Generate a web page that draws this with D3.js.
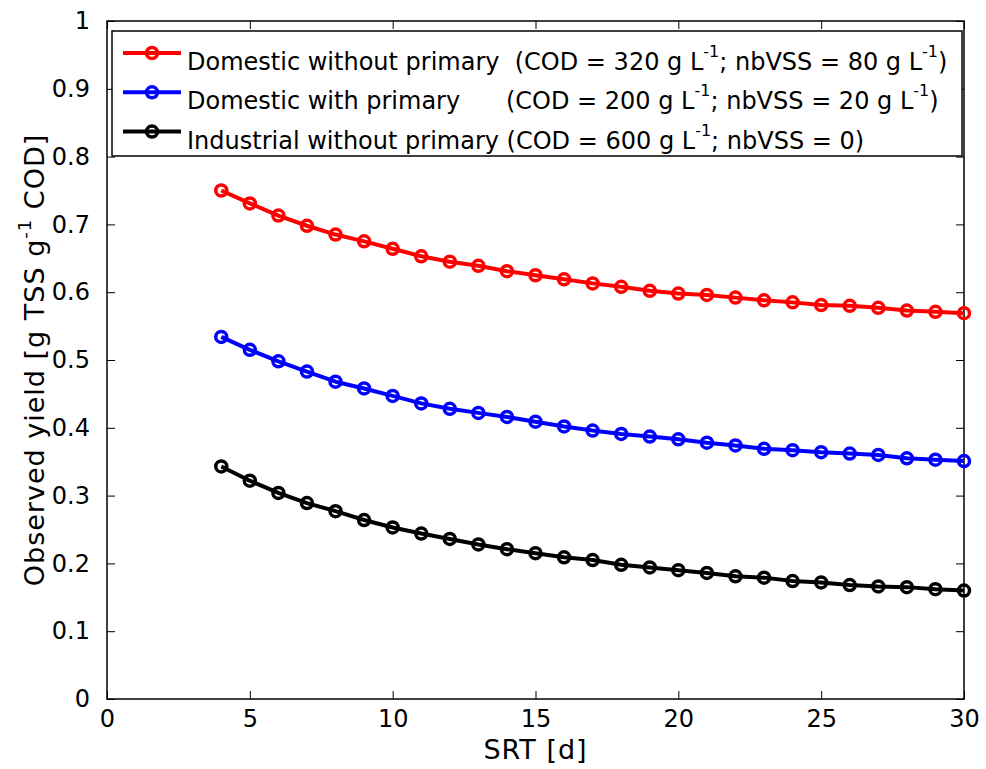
<!DOCTYPE html>
<html>
<head>
<meta charset="utf-8">
<script src="https://cdn.jsdelivr.net/npm/d3@7"></script>
<style>
    body { margin: 0; background: #fff; }
    svg text { font-family: "DejaVu Sans", sans-serif; fill: #000; }
</style>
</head>
<body>
<svg id="chart" width="986" height="769"></svg>
<script>
// SRT values [d]
const srt = [4, 5, 6, 7, 8, 9, 10, 11, 12, 13, 14, 15, 16, 17, 18, 19, 20,
             21, 22, 23, 24, 25, 26, 27, 28, 29, 30];

// observed yield [g TSS / g COD]
const domesticNoPrimary = [0.750, 0.731, 0.713, 0.698, 0.685, 0.675, 0.664, 0.653, 0.645,
                           0.639, 0.631, 0.625, 0.619, 0.613, 0.608, 0.602, 0.598, 0.596,
                           0.592, 0.588, 0.585, 0.581, 0.580, 0.577, 0.573, 0.571, 0.569];
const domesticPrimary   = [0.534, 0.515, 0.498, 0.483, 0.468, 0.458, 0.447, 0.436, 0.428,
                           0.422, 0.416, 0.409, 0.402, 0.396, 0.391, 0.387, 0.383, 0.378,
                           0.374, 0.369, 0.367, 0.364, 0.362, 0.360, 0.355, 0.353, 0.351];
const industrial        = [0.343, 0.322, 0.304, 0.289, 0.277, 0.264, 0.253, 0.244, 0.236,
                           0.228, 0.221, 0.215, 0.209, 0.205, 0.198, 0.194, 0.190, 0.186,
                           0.181, 0.179, 0.174, 0.172, 0.168, 0.166, 0.165, 0.162, 0.160];

const xTicks = [0, 5, 10, 15, 20, 25, 30];
const yTicks = [0, 0.1, 0.2, 0.3, 0.4, 0.5, 0.6, 0.7, 0.8, 0.9, 1];

// legend text pieces: [main, sup, middle, sup, end]
const legendNames = [
    ["Domestic without primary  (COD = 320 g L", "-1", "; nbVSS = 80 g L", "-1", ")"],
    ["Domestic with primary      (COD = 200 g L", "-1", "; nbVSS = 20 g L", "-1", ")"],
    ["Industrial without primary (COD = 600 g L", "-1", "; nbVSS = 0)"]
];
const colors = ["#ff0000", "#0000ff", "#000000"];

const series = [domesticNoPrimary, domesticPrimary, industrial];

const margin = {top: 21, right: 22, bottom: 70, left: 107};
const width = 986 - margin.left - margin.right;
const height = 769 - margin.top - margin.bottom;

const svg = d3.select("#chart");
const g = svg.append("g")
    .attr("transform", "translate(" + margin.left + "," + margin.top + ")");

const x = d3.scaleLinear().domain([0, 30]).range([0, width]);
const y = d3.scaleLinear().domain([0, 1]).range([height, 0]);

// axes, ticks pointing inwards like matlab
const tickLen = 8;
const fmt = d => d === 0 || d === 1 ? String(d) : d3.format(".1f")(d);

g.append("g")
    .attr("transform", "translate(0," + height + ")")
    .call(d3.axisBottom(x).tickValues(xTicks).tickSizeInner(-tickLen).tickSizeOuter(0)
        .tickPadding(tickLen + 3).tickFormat(d3.format("d")))
    .call(a => a.selectAll("text").style("font-size", "24px").attr("font-family", null));

g.append("g")
    .call(d3.axisLeft(y).tickValues(yTicks).tickSizeInner(-tickLen).tickSizeOuter(0)
        .tickPadding(tickLen + 9).tickFormat(fmt))
    .call(a => a.selectAll("text").style("font-size", "24px").attr("font-family", null));

g.append("g")
    .call(d3.axisTop(x).tickValues(xTicks).tickSizeInner(-tickLen).tickSizeOuter(0).tickFormat(""));

g.append("g")
    .attr("transform", "translate(" + width + ",0)")
    .call(d3.axisRight(y).tickValues(yTicks).tickSizeInner(-tickLen).tickSizeOuter(0).tickFormat(""));

g.selectAll(".domain").remove();
g.selectAll(".tick line").attr("stroke", "#000").attr("stroke-width", 1);

// box round the axes
g.append("rect")
    .attr("width", width)
    .attr("height", height)
    .attr("fill", "none")
    .attr("stroke", "#000")
    .attr("stroke-width", 1.5);

// axis titles
g.append("text")
    .attr("x", width / 2)
    .attr("y", height + 60)
    .attr("text-anchor", "middle")
    .style("font-size", "27px")
    .style("letter-spacing", "1px")
    .text("SRT [d]");

const yTitle = g.append("text")
    .attr("transform", "translate(-63," + (height / 2) + ") rotate(-90)")
    .attr("text-anchor", "middle")
    .style("font-size", "27px")
    .style("letter-spacing", "1px");
yTitle.append("tspan").text("Observed yield [g TSS g");
yTitle.append("tspan").attr("dy", -13).style("font-size", "18px").text("-1");
yTitle.append("tspan").attr("dy", 13).text(" COD]");

// the lines with circle markers
const line = d3.line()
    .x((d, i) => x(srt[i]))
    .y(d => y(d));

series.forEach((values, k) => {
    g.append("path")
        .datum(values)
        .attr("d", line)
        .attr("fill", "none")
        .attr("stroke", colors[k])
        .attr("stroke-width", 4)
        .attr("stroke-linejoin", "round");

    g.selectAll(".marker" + k)
        .data(values)
        .enter()
        .append("circle")
        .attr("class", "marker" + k)
        .attr("cx", (d, i) => x(srt[i]))
        .attr("cy", d => y(d))
        .attr("r", 5.5)
        .attr("fill", "none")
        .attr("stroke", colors[k])
        .attr("stroke-width", 3.5);
});

// legend
const legend = svg.append("g").attr("transform", "translate(112,31)");

legend.append("rect")
    .attr("width", 850)
    .attr("height", 125)
    .attr("fill", "#fff")
    .attr("stroke", "#000")
    .attr("stroke-width", 1.5);

legendNames.forEach((parts, k) => {
    const row = legend.append("g").attr("transform", "translate(0," + (22 + k * 39.3) + ")");
    row.append("line")
        .attr("x1", 11).attr("x2", 69)
        .attr("stroke", colors[k])
        .attr("stroke-width", 4);
    row.append("circle")
        .attr("cx", 40)
        .attr("r", 5.5)
        .attr("fill", "none")
        .attr("stroke", colors[k])
        .attr("stroke-width", 3.5);

    const t = row.append("text")
        .attr("x", 75)
        .attr("y", 17)
        .attr("xml:space", "preserve")
        .style("white-space", "pre")
        .style("font-size", "24px");
    parts.forEach((p, j) => {
        const sup = j % 2 === 1;
        t.append("tspan")
            .attr("dy", sup ? -13 : (j === 0 ? 0 : 13))
            .style("font-size", sup ? "16px" : null)
            .text(p);
    });
});
</script>
</body>
</html>
